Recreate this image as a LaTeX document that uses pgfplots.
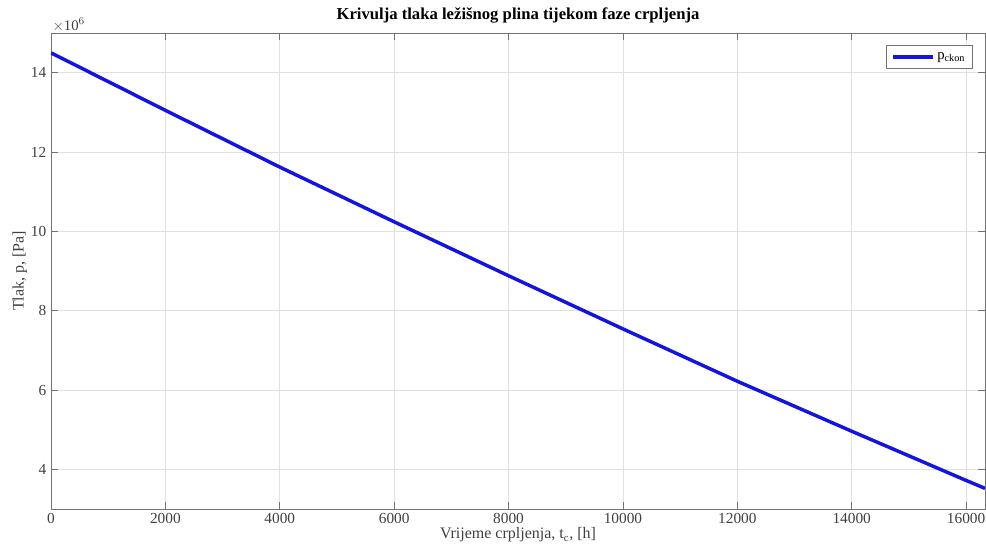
\documentclass[border=0pt]{standalone}
\usepackage{fontspec}
\setmainfont{Liberation Serif}
\usepackage{pgfplots}
\pgfplotsset{compat=1.18}
\begin{document}
\begin{tikzpicture}
\begin{axis}[
    name=ax,
    at={(0,0)}, anchor=south west,
    scale only axis,
    width=700.5pt, height=357pt,
    xmin=0, xmax=16330,
    ymin=3e6, ymax=15e6,
    xtick={0,2000,...,16000},
    xticklabels={0,2000,4000,6000,8000,10000,12000,14000,16000},
    ytick={4e6,6e6,8e6,10e6,12e6,14e6},
    yticklabels={4,6,8,10,12,14},
    scaled x ticks=false,
    scaled y ticks=false,
    tick label style={font=\fontsize{11.5}{13}\selectfont, text=black!75},
    tick align=inside,
    major tick length=5pt,
    axis line style={black!55, line width=0.6pt},
    every tick/.style={black!55, line width=0.6pt},
    grid=major,
    major grid style={black!12, line width=0.5pt},
    title={\textbf{Krivulja tlaka ležišnog plina tijekom faze crpljenja}},
    title style={font=\fontsize{12.5}{14}\selectfont, yshift=-2pt},
    xlabel={Vrijeme crpljenja, t$_{\mathrm{c}}$, [h]},
    ylabel={Tlak, p, [Pa]},
    label style={font=\fontsize{12}{13}\selectfont, text=black!75},
    xlabel style={yshift=4pt},
    ylabel style={yshift=-4pt},
    legend style={at={(rel axis cs:0.987,0.975)}, anchor=north east, draw=black!55, font=\fontsize{11}{12}\selectfont, inner sep=3.5pt},
    legend cell align=left,
    legend image code/.code={\draw[#1, line width=2.6pt] (0cm,0cm) -- (1.05cm,0cm);},
]
\addplot[color={rgb,255:red,20;green,20;blue,225}, line width=2.6pt] coordinates {
    (0, 14.50e6)
    (2000, 13.05e6)
    (4000, 11.62e6)
    (6000, 10.24e6)
    (8000, 8.88e6)
    (10000, 7.54e6)
    (12000, 6.22e6)
    (14000, 4.96e6)
    (16000, 3.72e6)
    (16330, 3.52e6)
};
\addlegendentry{p$_{\mathrm{ckon}}$}
\end{axis}
\node[anchor=south west, inner sep=1pt, font=\fontsize{11}{12}\selectfont, text=black!75] at (ax.north west) {$\times$10$^{6}$};
\pgfresetboundingbox
\path (-38.25pt,-30.75pt) rectangle ++(739.5pt,412.5pt);
\end{tikzpicture}
\end{document}
